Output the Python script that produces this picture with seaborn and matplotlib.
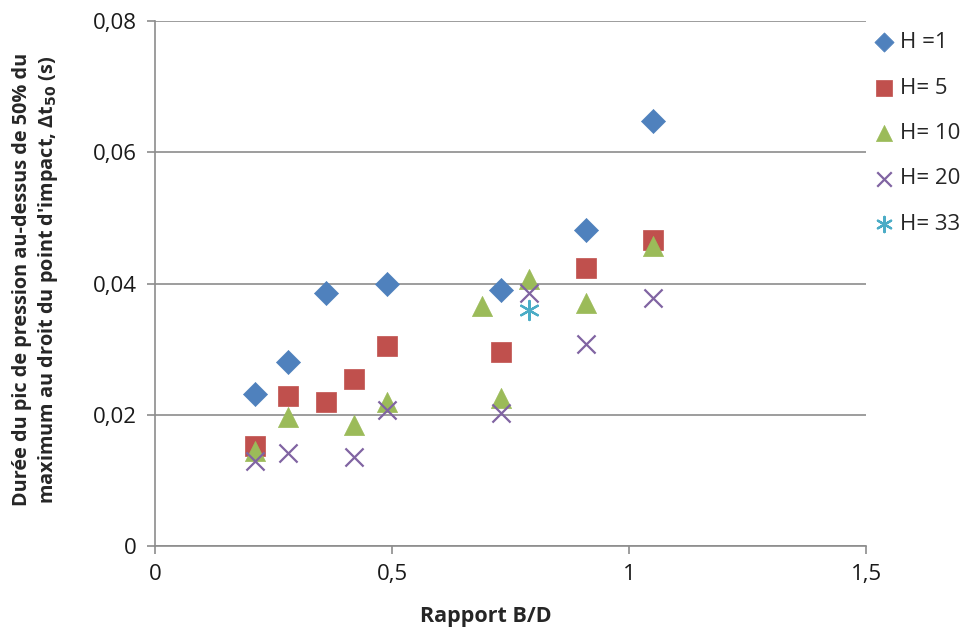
import matplotlib
matplotlib.use("Agg")
import matplotlib.pyplot as plt
import matplotlib.ticker as mticker
import pandas as pd
import seaborn as sns

# values
h1_x = [0.21, 0.28, 0.36, 0.49, 0.73, 0.91, 1.05]
h1_y = [0.0231, 0.0281, 0.0386, 0.0399, 0.0390, 0.0482, 0.0647]

h5_x = [0.21, 0.28, 0.36, 0.42, 0.49, 0.73, 0.91, 1.05]
h5_y = [0.0153, 0.0229, 0.0220, 0.0255, 0.0305, 0.0295, 0.0424, 0.0466]

h10_x = [0.21, 0.28, 0.42, 0.49, 0.69, 0.73, 0.79, 0.91, 1.05]
h10_y = [0.0145, 0.0197, 0.0184, 0.0219, 0.0365, 0.0225, 0.0407, 0.0370, 0.0457]

h20_x = [0.21, 0.28, 0.42, 0.49, 0.73, 0.79, 0.91, 1.05]
h20_y = [0.0130, 0.0141, 0.0136, 0.0207, 0.0203, 0.0385, 0.0308, 0.0378]

h33_x = [0.79]
h33_y = [0.0359]

series_labels = ["H =1", "H= 5", "H= 10", "H= 20", "H= 33"]
series_colors = ["#4F81BD", "#C0504D", "#9BBB59", "#8064A2", "#4BACC6"]
series_markers = ["D", "s", "^", "x", (6, 2, 0)]
series_sizes = [150, 200, 210, 170, 190]

sns.set_theme(style="white")
plt.rcParams["font.family"] = ["Open Sans", "DejaVu Sans"]

frames = []
for lab, xs, ys in zip(series_labels,
                       [h1_x, h5_x, h10_x, h20_x, h33_x],
                       [h1_y, h5_y, h10_y, h20_y, h33_y]):
    frames.append(pd.DataFrame({"x": xs, "y": ys, "serie": lab}))
df = pd.concat(frames, ignore_index=True)

fig = plt.figure(figsize=(9.66, 6.3), dpi=100)
ax = fig.add_axes([0.1605, 0.1333, 0.736, 0.8334])

for lab, col, mk, sz in zip(series_labels, series_colors, series_markers, series_sizes):
    sub = df[df["serie"] == lab]
    if mk == "x" or isinstance(mk, tuple):
        sns.scatterplot(data=sub, x="x", y="y", ax=ax, color=col, marker=mk,
                        s=sz, linewidth=1.6, label=lab)
    else:
        sns.scatterplot(data=sub, x="x", y="y", ax=ax, color=col, marker=mk,
                        s=sz, edgecolor=col, linewidth=0.5, label=lab)

ax.set_xlim(0, 1.5)
ax.set_ylim(0, 0.08)
ax.set_xticks([0, 0.5, 1, 1.5])
ax.set_yticks([0, 0.02, 0.04, 0.06, 0.08])

def comma_fmt(v, pos):
    if abs(v) < 1e-12:
        return "0"
    if abs(v) < 0.1:
        return ("%.2f" % v).replace(".", ",")
    return ("%g" % v).replace(".", ",")

ax.xaxis.set_major_formatter(mticker.FuncFormatter(comma_fmt))
ax.yaxis.set_major_formatter(mticker.FuncFormatter(comma_fmt))

ax.yaxis.grid(True, color="#8c8c8c", linewidth=1.2)
ax.set_axisbelow(True)
for side in ("top", "right"):
    ax.spines[side].set_visible(False)
for side in ("left", "bottom"):
    ax.spines[side].set_color("#8c8c8c")
    ax.spines[side].set_linewidth(1.2)

ax.tick_params(axis="both", which="major", direction="out", length=6, width=1.2,
               color="#8c8c8c", labelsize=16, labelcolor="#1a1a1a", pad=7)
ax.tick_params(axis="x", bottom=True)
ax.tick_params(axis="y", left=True)

ax.set_xlabel("Rapport B/D", fontsize=15.5, fontweight="bold")
ax.xaxis.set_label_coords(0.4655, -0.115)
ax.set_ylabel("Durée du pic de pression au-dessus de 50% du\n"
              "maximum au droit du point d'impact, Δt$_{\\mathbf{50}}$ (s)",
              fontsize=14.3, fontweight="bold", linespacing=1.25)
ax.yaxis.set_label_coords(-0.134, 0.507)

ax.legend(loc="upper left", bbox_to_anchor=(0.99, 1.0), frameon=False,
          fontsize=16, labelspacing=1.1, handletextpad=0.05, borderaxespad=0.1,
          handlelength=1.3, markerscale=0.8)

fig.savefig("out.png", dpi=100)
